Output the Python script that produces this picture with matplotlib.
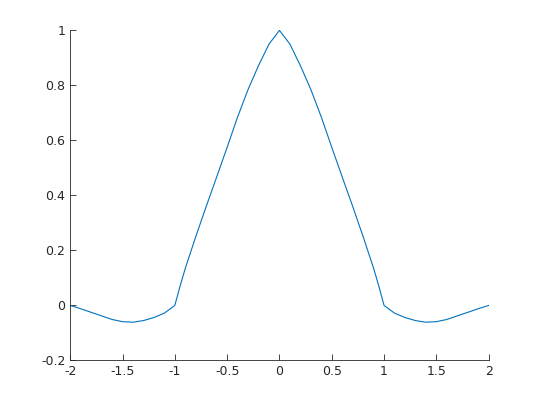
import matplotlib
matplotlib.use("Agg")
import matplotlib.pyplot as plt

xh = [2.0,1.9,1.8,1.7,1.6,1.5,1.4,1.3,1.2,1.1,1.0,0.95,0.9,0.8,0.7,0.6,0.5,0.4,0.3,0.2,0.1]
half = [0.0,-0.012,-0.025,-0.038,-0.051,-0.059,-0.061,-0.055,-0.044,-0.028,0.0,0.07,
        0.135,0.25,0.36,0.467,0.575,0.685,0.785,0.872,0.95]
x = [-v for v in xh] + [0.0] + xh[::-1]
y = half + [1.0] + half[::-1]
xticks = [-2,-1.5,-1,-0.5,0,0.5,1,1.5,2]
xticklabels = ['-2','-1.5','-1','-0.5','0','0.5','1','1.5','2']
yticks = [-0.2,0,0.2,0.4,0.6,0.8,1]
yticklabels = ['-0.2','0','0.2','0.4','0.6','0.8','1']

fig = plt.figure(figsize=(5.4,4.05), dpi=100)
ax = fig.add_axes([0.13,0.11,0.775,0.815])
ax.plot(x, y, color='#0072BD', lw=0.8)
ax.set_xlim(-2,2); ax.set_ylim(-0.2,1)
ax.set_xticks(xticks); ax.set_xticklabels(xticklabels)
ax.set_yticks(yticks); ax.set_yticklabels(yticklabels)
for s in ['top','right']:
    ax.spines[s].set_visible(False)
for s in ['left','bottom']:
    ax.spines[s].set_color('#262626'); ax.spines[s].set_linewidth(0.6)
ax.tick_params(direction='in', labelsize=9, colors='#262626', length=4, width=0.6)
fig.savefig('out.png', dpi=100)
